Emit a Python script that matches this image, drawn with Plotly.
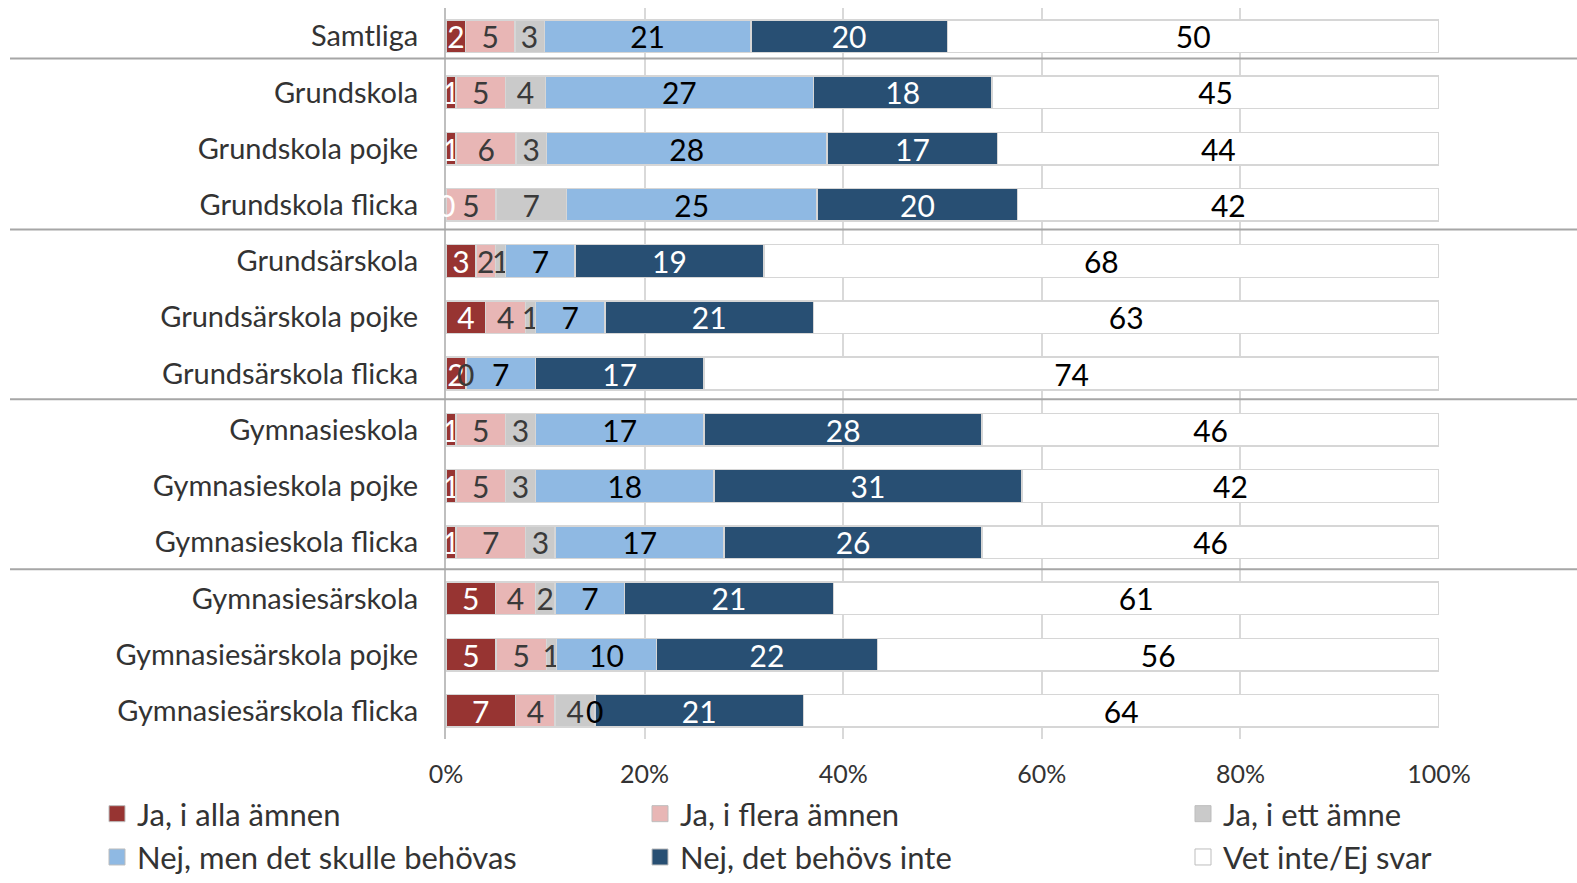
import plotly.graph_objects as go

# Rows (top to bottom) and answer series
categories = [
    "Samtliga",
    "Grundskola", "Grundskola pojke", "Grundskola flicka",
    "Grundsärskola", "Grundsärskola pojke", "Grundsärskola flicka",
    "Gymnasieskola", "Gymnasieskola pojke", "Gymnasieskola flicka",
    "Gymnasiesärskola", "Gymnasiesärskola pojke", "Gymnasiesärskola flicka",
]

ja_alla = [2, 1, 1, 0, 3, 4, 2, 1, 1, 1, 5, 5, 7]
ja_flera = [5, 5, 6, 5, 2, 4, 0, 5, 5, 7, 4, 5, 4]
ja_ett = [3, 4, 3, 7, 1, 1, 0, 3, 3, 3, 2, 1, 4]
nej_behovs = [21, 27, 28, 25, 7, 7, 7, 17, 18, 17, 7, 10, 0]
nej_inte = [20, 18, 17, 20, 19, 21, 17, 28, 31, 26, 21, 22, 21]
vet_inte = [50, 45, 44, 42, 68, 63, 74, 46, 42, 46, 61, 56, 64]

series_names = [
    "Ja, i alla ämnen", "Ja, i flera ämnen", "Ja, i ett ämne",
    "Nej, men det skulle behövas", "Nej, det behövs inte", "Vet inte/Ej svar",
]
series_values = [ja_alla, ja_flera, ja_ett, nej_behovs, nej_inte, vet_inte]
tick_values = [0, 20, 40, 60, 80, 100]
tick_labels = ["0%", "20%", "40%", "60%", "80%", "100%"]

fill_colors = ["#973432", "#E8B6B5", "#CACACA", "#8FB9E3", "#284F73", "#FFFFFF"]
label_colors = ["#FFFFFF", "#3A3A3A", "#3A3A3A", "#000000", "#FFFFFF", "#000000"]
outline = "#D6D6D6"

FONT = "Lato"
LABEL_SIZE = 30
W, H = 1577, 883
L, R, T, B = 446, 138, 8, 144
plot_w = W - L - R

fig = go.Figure()

# Stacked, normalised bars with their values written inside
for name, vals, fc, lc in zip(series_names, series_values, fill_colors, label_colors):
    fig.add_trace(go.Bar(
        y=categories, x=vals, name=name, orientation="h",
        marker=dict(color=fc, line=dict(color=outline, width=1.5)),
        text=[str(v) for v in vals], texttemplate="%{text}",
        textposition="inside", insidetextanchor="middle", textangle=0,
        constraintext="none",
        insidetextfont=dict(family=FONT, size=LABEL_SIZE, color=lc),
        showlegend=False, hoverinfo="skip",
    ))

# Zero-valued segments have no width, so their "0" goes on as an annotation
# at the segment's normalised position (one label per position)
totals = [sum(col) for col in zip(*series_values)]
placed = set()
for k, (vals, lc) in enumerate(zip(series_values, label_colors)):
    for i, v in enumerate(vals):
        if v != 0:
            continue
        before = sum(series_values[j][i] for j in range(k))
        pos = round(100 * before / totals[i], 3)
        if (i, pos) in placed:
            continue
        placed.add((i, pos))
        fig.add_annotation(
            x=pos, y=categories[i], xref="x", yref="y", text="0",
            showarrow=False, xanchor="center", yanchor="middle",
            font=dict(family=FONT, size=LABEL_SIZE, color=lc),
        )

# Legend entries: three columns of two items each
legend_cols = ["legend", "legend2", "legend3"]
for idx, (name, fc) in enumerate(zip(series_names, fill_colors)):
    fig.add_trace(go.Scatter(
        x=[None], y=[None], mode="markers", name=name,
        marker=dict(symbol="square", size=16, color=fc,
                    line=dict(color="#BDBDBD", width=1)),
        legend=legend_cols[idx % 3], hoverinfo="skip",
    ))

# Group separators spanning the label column and the plot
for yb in [0.40, 3.44, 6.46, 9.48]:
    fig.add_shape(type="line", xref="paper", yref="y",
                  x0=(10 - L) / plot_w, x1=(W - L) / plot_w, y0=yb, y1=yb,
                  line=dict(color="#A6A6A6", width=2), layer="above")

legend_common = dict(
    orientation="v", xanchor="left", yanchor="top", y=-0.0657,
    traceorder="normal",
    font=dict(family=FONT, size=31, color="#333333"),
    bgcolor="rgba(0,0,0,0)", borderwidth=0, tracegroupgap=0,
    itemsizing="trace",
)
fig.update_layout(
    width=W, height=H,
    margin=dict(l=L, r=R, t=T, b=B, pad=0, autoexpand=False),
    paper_bgcolor="white", plot_bgcolor="white",
    barmode="stack", barnorm="percent", bargap=0.42,
    uniformtext=dict(mode="show", minsize=LABEL_SIZE),
    font=dict(family=FONT, color="#333333"),
    showlegend=True,
    legend=dict(x=(97 - L) / plot_w, **legend_common),
    legend2=dict(x=(640 - L) / plot_w, **legend_common),
    legend3=dict(x=(1183 - L) / plot_w, **legend_common),
    xaxis=dict(
        range=[0, 100], tickvals=tick_values, ticktext=tick_labels,
        showgrid=True, gridcolor="#D9D9D9", gridwidth=2,
        zeroline=False, showline=False, ticks="",
        tickfont=dict(family=FONT, size=25, color="#333333"),
        ticklabelstandoff=18, fixedrange=True,
    ),
    yaxis=dict(
        type="category", categoryorder="array", categoryarray=categories,
        range=[len(categories) - 0.5, -0.5],
        showgrid=False, zeroline=False,
        showline=True, linecolor="#BFBFBF", linewidth=2,
        ticks="", tickfont=dict(family=FONT, size=29, color="#333333"),
        ticklabelstandoff=20, fixedrange=True,
    ),
)

fig.write_html("out.html")
